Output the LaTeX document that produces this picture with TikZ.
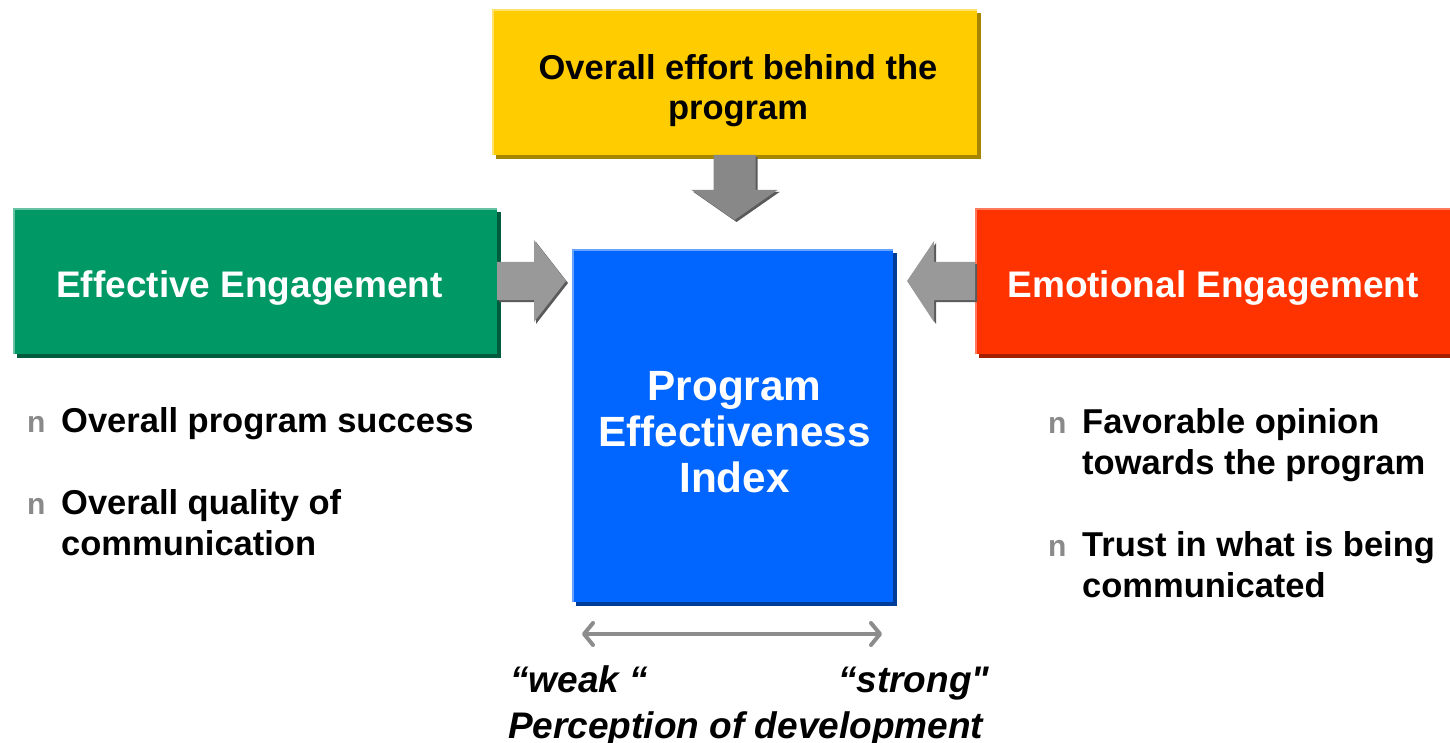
\documentclass[tikz,border=0pt]{standalone}
\usepackage{fontspec}
\setmainfont{Liberation Sans}
\newfontfamily\quotefont{Liberation Sans}
\usetikzlibrary{calc,shadows,arrows.meta}
\definecolor{yelfill}{HTML}{FFCC00}
\definecolor{yelshade}{HTML}{A68600}
\definecolor{yellight}{HTML}{FFE26E}
\definecolor{grnfill}{HTML}{009966}
\definecolor{grnshade}{HTML}{005C3D}
\definecolor{grnlight}{HTML}{66C2A3}
\definecolor{redfill}{HTML}{FF3300}
\definecolor{redshade}{HTML}{A32100}
\definecolor{redlight}{HTML}{FF7A5C}
\definecolor{blufill}{HTML}{0066FF}
\definecolor{blushade}{HTML}{003D99}
\definecolor{blulight}{HTML}{66A3FF}
\definecolor{arrfill}{HTML}{999999}
\definecolor{arrtop}{HTML}{888888}
\definecolor{arrshade}{HTML}{5A5A5A}
\definecolor{bulgray}{HTML}{8A8A8A}
\definecolor{dblarr}{HTML}{8C8C8C}
\begin{document}
\begin{tikzpicture}[x=1pt,y=-1pt,
  pbox/.style 2 args={rectangle, fill=#1, inner sep=0pt, outer sep=0pt,
    drop shadow={shadow xshift=4pt, shadow yshift=-4pt, opacity=1, fill=#2}},
  hilite/.style={line width=2pt, draw=#1},
  boxtitle/.style={font=\bfseries\fontsize{37}{40}\selectfont, text=white, inner sep=0pt, anchor=base},
  twoline/.style={font=\bfseries\fontsize{34.5}{40}\selectfont, align=center, inner sep=0pt, anchor=base},
  centertxt/.style={font=\bfseries\fontsize{42.3}{46}\selectfont, text=white, align=center, inner sep=0pt, anchor=base},
  bultxt/.style={font=\bfseries\fontsize{34.5}{41}\selectfont, align=left, inner sep=0pt, anchor=base west},
  bulmark/.style={font=\bfseries\fontsize{30}{34}\selectfont, text=bulgray, inner sep=0pt, anchor=base west},
  bottxt/.style={font=\quotefont\bfseries\itshape\fontsize{37}{42}\selectfont, inner sep=0pt, anchor=base west},
  blockarr/.style={fill=#1},
  blockshade/.style={fill=arrshade},
  scalearr/.style={draw=dblarr, line width=4pt,
    {Straight Barb[round, length=9pt, width=22pt]}-{Straight Barb[round, length=9pt, width=22pt]}}
]
\useasboundingbox (0,0) rectangle (1450,743);
\clip (0,0) rectangle (1450,743);

% boxes
\node[pbox={yelfill}{yelshade}, minimum width=485pt, minimum height=146pt] (effort) at (734.5,82) {};
\node[pbox={grnfill}{grnshade}, minimum width=484pt, minimum height=146pt] (effective) at (255,281) {};
\node[pbox={redfill}{redshade}, minimum width=484pt, minimum height=146pt] (emotional) at (1217,281) {};
\node[pbox={blufill}{blushade}, minimum width=321pt, minimum height=353pt] (index) at (732.5,425.5) {};

% highlights on top and left edges
\foreach \b/\c in {effort/yellight, effective/grnlight, emotional/redlight, index/blulight}{
  \draw[hilite=\c] ([shift={(1,0)}]\b.south west) -- ([shift={(1,1)}]\b.north west) -- ([shift={(0,1)}]\b.north east);
}

% box texts (base anchor = last line's baseline)
\node[twoline] (efforttxt) at (738,120) {Overall effort behind the\\program};
\node[boxtitle] (effectivetxt) at (249.5,298) {Effective Engagement};
\node[boxtitle] (emotionaltxt) at (1213,298) {Emotional Engagement};
\node[centertxt] (indextxt) at (734.5,492) {Program\\Effectiveness\\Index};

% block arrows: left
\fill[blockshade] ($(effective.east)+(2,-17)$) -- ($(effective.east)+(39,-17)$) -- ($(effective.east)+(39,-39)$) -- ($(effective.east)+(71,2)$) -- ($(effective.east)+(39,43)$) -- ($(effective.east)+(39,21)$) -- ($(effective.east)+(2,21)$) -- cycle;
\fill[blockarr=arrfill] ($(effective.east)+(0,-19)$) -- ($(effective.east)+(37,-19)$) -- ($(effective.east)+(37,-41)$) -- ($(effective.east)+(69,0)$) -- ($(effective.east)+(37,41)$) -- ($(effective.east)+(37,19)$) -- ($(effective.east)+(0,19)$) -- cycle;
% right
\fill[blockshade] ($(emotional.west)+(2,-17)$) -- ($(emotional.west)+(-39,-17)$) -- ($(emotional.west)+(-39,-38)$) -- ($(emotional.west)+(-66,2)$) -- ($(emotional.west)+(-39,43)$) -- ($(emotional.west)+(-39,21)$) -- ($(emotional.west)+(2,21)$) -- cycle;
\fill[blockarr=arrfill] ($(emotional.west)+(0,-19)$) -- ($(emotional.west)+(-41,-19)$) -- ($(emotional.west)+(-41,-40)$) -- ($(emotional.west)+(-68,0)$) -- ($(emotional.west)+(-41,41)$) -- ($(emotional.west)+(-41,19)$) -- ($(emotional.west)+(0,19)$) -- cycle;
% top
\fill[blockshade] ($(effort.south)+(-19,2)$) -- ($(effort.south)+(23,2)$) -- ($(effort.south)+(23,37)$) -- ($(effort.south)+(45,37)$) -- ($(effort.south)+(2,67)$) -- ($(effort.south)+(-41,37)$) -- ($(effort.south)+(-19,37)$) -- cycle;
\fill[blockarr=arrtop] ($(effort.south)+(-21,0)$) -- ($(effort.south)+(21,0)$) -- ($(effort.south)+(21,35)$) -- ($(effort.south)+(43,35)$) -- ($(effort.south)+(0,65)$) -- ($(effort.south)+(-43,35)$) -- ($(effort.south)+(-21,35)$) -- cycle;

% bullets left
\node[bulmark] (bl1) at (27,432) {n};
\node[bultxt] (tl1) at (61,432) {Overall program success};
\node[bulmark] (bl2) at (27,514) {n};
\node[bultxt] (tl2) at (61,555) {Overall quality of\\communication};
% bullets right
\node[bulmark] (br1) at (1048,433) {n};
\node[bultxt] (tr1) at (1082,474) {Favorable opinion\\towards the program};
\node[bulmark] (br2) at (1048,556) {n};
\node[bultxt] (tr2) at (1082,597) {Trust in what is being\\communicated};

% scale arrow
\coordinate (weakend) at (582,634);
\coordinate (strongend) at (882,634);
\draw[scalearr] (weakend) -- (strongend);

% bottom labels
\node[bottxt] (weak) at (510,692) {“weak “};
\node[bottxt] (strong) at (838,692) {“strong"};
\node[bottxt] (perception) at (508,738) {Perception of development};
\end{tikzpicture}
\end{document}
